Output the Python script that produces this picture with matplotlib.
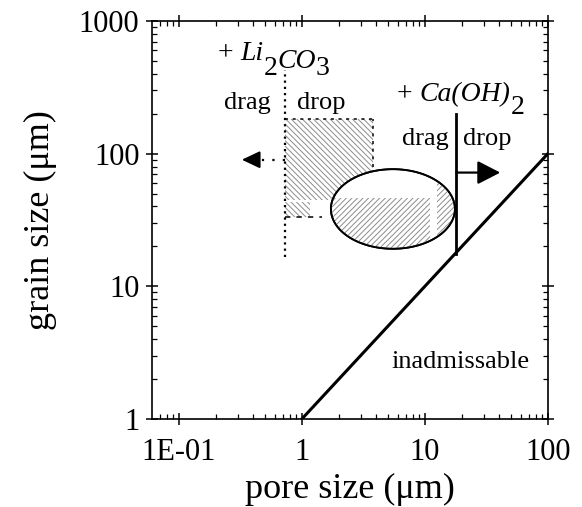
import numpy as np
import matplotlib
matplotlib.use('Agg')
import matplotlib.pyplot as plt
from matplotlib.patches import Rectangle, Polygon
from matplotlib.ticker import FixedLocator, NullFormatter

plt.rcParams['font.family'] = ['Liberation Serif', 'DejaVu Serif']
plt.rcParams['hatch.linewidth'] = 0.7

# axis ticks
x_ticks = [0.1, 1, 10, 100]
x_labels = ['1E-01', '1', '10', '100']
y_ticks = [1, 10, 100, 1000]
y_labels = ['1', '10', '100', '1000']

# boundary of admissible region: grain size = pore size
limit_x = [1, 100]
limit_y = [1, 100]

# Li2CO3 and Ca(OH)2 drag/drop transitions (pore size, grain size range)
li_x = 0.73
li_y = [16.6, 430]
ca_x = 18
ca_y = [17.5, 200]

# hatched Li2CO3 region
li_box_x = [0.73, 3.78]
li_box_y = [44.8, 182]
li_box_low_x = [0.73, 1.16]
li_box_low_y = [33.3, 43.2]
li_box_bottom_x = [0.73, 1.45]
li_box_right_y = [79, 182]

# Ca(OH)2 ellipse (log10 centre, half widths in decades)
ell_cx, ell_cy = 0.74, 1.583
ell_ax, ell_ay = 0.504, 0.30
ell_low_x = [1.6, 11.0]
ell_low_y = [15, 46.3]
ell_strip_x = [12.5, 20]

# arrows
left_arrow = dict(tip=(0.325, 90), base=(0.43, 90))
right_arrow = dict(tip=(41, 72), base=(18, 72))

fig = plt.figure(figsize=(5.82, 5.07), dpi=100)
ax = fig.add_axes([0.261, 0.1736, 0.6804, 0.785])
ax.set_xscale('log')
ax.set_yscale('log')
ax.set_xlim(0.0604, 100)
ax.set_ylim(1, 1000)

# Li2CO3 hatched box
ax.add_patch(Rectangle((li_box_x[0], li_box_y[0]), li_box_x[1] - li_box_x[0],
                       li_box_y[1] - li_box_y[0], facecolor='none',
                       edgecolor='0.55', lw=0, hatch='\\' * 6, zorder=1))
ax.add_patch(Rectangle((li_box_low_x[0], li_box_low_y[0]),
                       li_box_low_x[1] - li_box_low_x[0],
                       li_box_low_y[1] - li_box_low_y[0], facecolor='none',
                       edgecolor='0.55', lw=0, hatch='\\' * 6, zorder=1))
ax.plot(li_box_x, [li_box_y[1]] * 2, color='black', lw=1.1,
        ls=(0, (2, 3)), zorder=2)
ax.plot([li_box_x[1]] * 2, li_box_right_y, color='black', lw=1.1,
        ls=(0, (2, 3)), zorder=2)
ax.plot(li_box_bottom_x, [li_box_low_y[0]] * 2, color='black', lw=1.1,
        ls=(0, (3.5, 4)), zorder=2)

# ellipse
t = np.linspace(0, 2 * np.pi, 300)
ex = 10 ** (ell_cx + ell_ax * np.cos(t))
ey = 10 ** (ell_cy + ell_ay * np.sin(t))
ell = Polygon(np.column_stack([ex, ey]), closed=True, facecolor='white',
              edgecolor='black', lw=1.3, zorder=3, transform=ax.transData)
ax.add_patch(ell)
for rx, ry in [(ell_low_x, ell_low_y), (ell_strip_x, ell_low_y[:1] + [200])]:
    r = Rectangle((rx[0], ry[0]), rx[1] - rx[0], ry[1] - ry[0],
                  facecolor='none', edgecolor='0.55', lw=0, hatch='/' * 6,
                  zorder=3.5)
    ax.add_patch(r)
    r.set_clip_path(ell)
ax.add_patch(Polygon(np.column_stack([ex, ey]), closed=True, facecolor='none',
                     edgecolor='black', lw=1.3, zorder=4))

# lines
ax.plot(limit_x, limit_y, color='black', lw=2.2, zorder=5)
ax.plot([li_x, li_x], li_y, color='black', lw=1.6, ls=(0, (1, 1.8)), zorder=5)
ax.plot([ca_x, ca_x], ca_y, color='black', lw=2.0, zorder=5)

# arrows
ax.plot([li_x, left_arrow['base'][0]], [left_arrow['tip'][1]] * 2,
        color='black', lw=1.6, ls=(0, (1, 3.7)), zorder=5)
ax.annotate('', xy=left_arrow['tip'], xytext=left_arrow['base'],
            arrowprops=dict(arrowstyle='-|>,head_length=0.55,head_width=0.26',
                            mutation_scale=20, color='black', lw=1.5,
                            shrinkA=0, shrinkB=0), zorder=6)
ax.annotate('', xy=right_arrow['tip'], xytext=right_arrow['base'],
            arrowprops=dict(arrowstyle='-|>,head_length=0.7,head_width=0.36',
                            mutation_scale=20, color='black', lw=1.6,
                            shrinkA=0, shrinkB=0), zorder=6)


def chem_label(x, y, pieces, size=20):
    # pieces: (text, italic, vertical shift in points relative to previous)
    txt, ital, _ = pieces[0]
    prev = ax.text(x, y, txt, fontsize=size, va='baseline', ha='left',
                   style='italic' if ital else 'normal', zorder=7)
    for txt, ital, dy in pieces[1:]:
        prev = ax.annotate(txt, xy=(1, 0), xycoords=prev, xytext=(0, dy),
                           textcoords='offset points', va='bottom', ha='left',
                           fontsize=size, style='italic' if ital else 'normal',
                           zorder=7)


chem_label(0.207, 507, [('+ ', False, 0), ('Li', True, 0), ('2', False, -11),
                        ('CO', True, 5.5), ('3', False, -5)])
chem_label(5.92, 249, [('+ ', False, 0), ('Ca(OH)', True, 0),
                       ('2', False, -9.4)])

ax.text(0.364, 217, 'drag', fontsize=19, ha='center', va='baseline')
ax.text(1.45, 217, 'drop', fontsize=19, ha='center', va='baseline')
ax.text(10, 116, 'drag', fontsize=19, ha='center', va='baseline')
ax.text(31.9, 116, 'drop', fontsize=19, ha='center', va='baseline')
ax.text(19.3, 2.42, 'inadmissable', fontsize=19, ha='center', va='baseline')

# axes styling
ax.xaxis.set_major_locator(FixedLocator(x_ticks))
ax.yaxis.set_major_locator(FixedLocator(y_ticks))
ax.set_xticklabels(x_labels)
ax.set_yticklabels(y_labels)
ax.xaxis.set_minor_formatter(NullFormatter())
ax.yaxis.set_minor_formatter(NullFormatter())
ax.tick_params(which='major', direction='inout', length=8, width=1.1,
               labelsize=22, top=True, right=True)
ax.tick_params(which='minor', direction='in', length=3.5, width=0.9,
               top=True, right=True)
ax.tick_params(axis='x', which='major', pad=10)
ax.tick_params(axis='y', which='major', pad=5)
for s in ax.spines.values():
    s.set_linewidth(1.2)

ax.set_xlabel('pore size (\u03bcm)', fontsize=26, labelpad=4)
ax.set_ylabel('grain size (\u03bcm)', fontsize=26, labelpad=16)

fig.savefig('out.png', dpi=100)
